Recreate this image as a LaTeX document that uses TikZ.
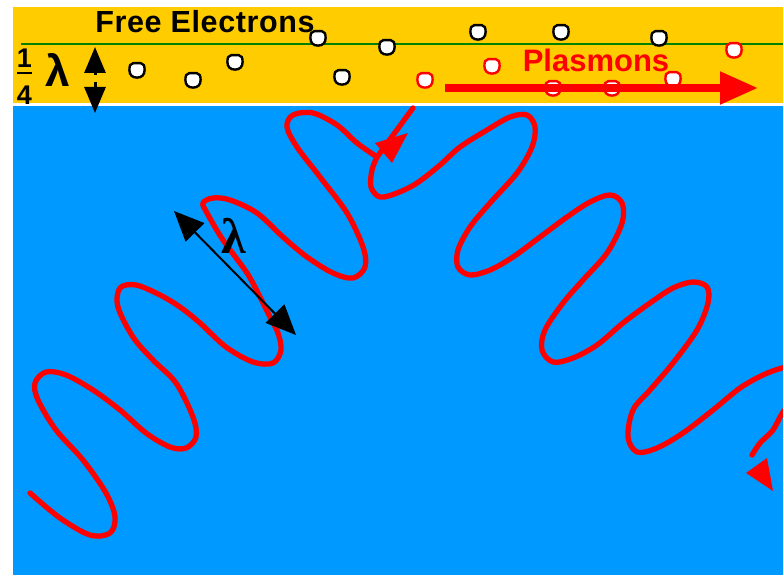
\documentclass[tikz,border=0pt]{standalone}
\usepackage{fontspec}
\setmainfont{Liberation Sans}
\newfontfamily\lamserif{Liberation Serif}
\newfontfamily\spacedsans{Liberation Sans}[LetterSpace=2]
\usetikzlibrary{arrows.meta}

\definecolor{goldband}{RGB}{255,204,0}
\definecolor{seablue}{RGB}{0,153,255}
\definecolor{wavered}{RGB}{255,0,0}
\definecolor{linegreen}{RGB}{0,128,0}

\begin{document}
\begin{tikzpicture}[x=1pt,y=-1pt,
  wave/.style={draw=wavered, line width=5.3pt, line cap=round, line join=round},
  wavehead/.style={fill=wavered},
  bigtext/.style={font=\bfseries\fontsize{31}{36}\selectfont, inner sep=0pt},
  spacedtext/.style={font=\spacedsans\bfseries\fontsize{30.5}{36}\selectfont, inner sep=0pt},
  digit/.style={font=\bfseries\fontsize{27}{32}\selectfont, inner sep=0pt},
  electron/.pic={\draw[fill=white, line width=2.4pt]
      (0,7.6) .. controls (4.8,7.6) and (7.6,4.8) .. (7.6,0)
      .. controls (7.6,-4) and (6.7,-6.8) .. (3.8,-6.8) -- (-3.8,-6.8)
      .. controls (-6.7,-6.8) and (-7.6,-4) .. (-7.6,0)
      .. controls (-7.6,4.8) and (-4.8,7.6) .. (0,7.6) -- cycle;}
]
\useasboundingbox (0,0) rectangle (783,575);
\clip (0,0) rectangle (783,575);

% metal film and substrate
\fill[goldband] (13,7) rectangle (783,103);
\fill[seablue] (13,106) rectangle (783,575);

% surface line of the electron gas
\draw[linegreen, line width=2.2pt] (21,44) -- (783,44);

% labels in the film
\node[spacedtext, anchor=base] (free) at (205,33) {Free Electrons};
\node[digit, anchor=base] (num) at (24.5,68) {1};
\node[digit, anchor=base] (den) at (24.5,104) {4};
\draw[line width=2pt] (17,73.5) -- (32,73.5);
\node[font=\bfseries\fontsize{44}{50}\selectfont, inner sep=0pt] (lamtop) at (58,70) {λ};

% quarter-wavelength depth marker
\coordinate (dtop) at (95,47);
\coordinate (dbot) at (95,113);
\draw[line width=3pt, -{Triangle[length=26pt,width=21pt]}] (95,75) -- (dtop);
\draw[line width=3pt, -{Triangle[length=26pt,width=21pt]}] (95,82) -- (dbot);

% electrons at rest
\foreach \p in {(137,70),(193,80),(235,62),(318,38),(342,77),(387,47),(478,32),(561,32),(659,38)}
  \pic at \p {electron};
% electrons carried by the plasmon
\foreach \p in {(425,80),(492,66),(553,88),(612,88),(673,79),(734,50)}
  \pic[wavered] at \p {electron};

% plasmon propagation
\node[bigtext, text=wavered, anchor=base] (plas) at (596,72) {Plasmons};
\coordinate (pstart) at (445,88);
\coordinate (pend) at (758,88);
\draw[wavered, line width=8pt, -{Triangle[length=38pt,width=31pt]}] (pstart) -- (pend);

% incoming light wave
\coordinate (junction) at (377,157);
\coordinate (surface) at (413,108);
\draw[wave] plot[smooth, tension=0.55] coordinates {
  (30,493) (60,518) (90,535) (110,533) (115,517) (106,493) (83,460) (56,430)
  (38,400) (35,383) (46,372) (66,375) (93,390) (120,410) (146,433) (170,447)
  (186,448) (196,437) (193,417) (176,383) (153,360) (133,337) (118,307)
  (120,288) (136,285) (160,295) (180,307) (200,323) (226,347) (253,362)
  (273,363) (281,350) (278,333) (270,317) (260,297) (247,273) (223,240)
  (207,213) (203,203) (213,198) (230,200) (257,213) (283,237) (307,257)
  (333,273) (353,278) (365,267) (363,247) (347,213) (320,177) (297,147)
  (287,127) (293,115) (313,113) (337,125) (357,143) (377,157)};
\draw[wave] (junction) -- (surface);

% reflected light wave
\draw[wave] plot[smooth, tension=0.55] coordinates {
  (377,157) (372,170) (371,187) (380,197) (397,193) (417,183) (440,165)
  (460,147) (487,130) (510,117) (527,115) (535,127) (532,147) (517,173)
  (490,203) (470,227) (458,250) (458,267) (470,275) (490,270) (513,257)
  (540,237) (567,217) (590,202) (610,195) (622,203) (622,223) (607,253)
  (583,280) (563,303) (545,330) (542,350) (553,362) (573,358) (597,345)
  (623,323) (650,303) (673,288) (693,282) (707,287) (708,303) (697,330)
  (673,363) (650,390) (633,410) (628,437) (637,452) (657,448) (683,433)
  (713,410) (740,388) (763,375) (782,368) (798,366) (806,378) (797,396)
  (783,412) (773,430) (760,443) (752,455)};

% wave direction heads
\fill[wavehead] (408,133) -- (375,143) -- (392,163) -- cycle;
\fill[wavehead] (773,491) -- (746,473) -- (767,458) -- cycle;

% wavelength marker
\coordinate (wla) at (174,211);
\coordinate (wlb) at (296,335);
\draw[line width=2pt, {Triangle[length=30pt,width=26pt]}-{Triangle[length=30pt,width=26pt]}] (wla) -- (wlb);
\node[font=\lamserif\bfseries\fontsize{50}{56}\selectfont, inner sep=0pt] (lammid) at (234,236) {λ};

\end{tikzpicture}
\end{document}
